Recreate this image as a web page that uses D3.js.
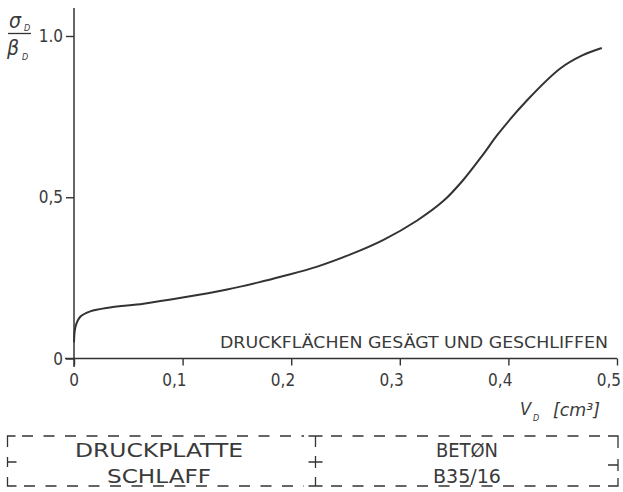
<!DOCTYPE html>
<html>
<head>
<meta charset="utf-8">
<script src="https://cdn.jsdelivr.net/npm/d3@7/dist/d3.min.js"></script>
<style>
  html, body { margin: 0; padding: 0; background: #fff; }
  svg { display: block; }
  text { font-family: "DejaVu Sans Condensed", "DejaVu Sans", sans-serif; fill: #3a3a3a; }
</style>
</head>
<body>
<svg id="chart" width="623" height="492"></svg>
<script>
// Relative stress sigma_D/beta_D versus deformation volume V_D [cm3]
const volume = [0, 0.0015, 0.006, 0.015, 0.033, 0.064, 0.10, 0.141, 0.17, 0.192,
                0.224, 0.254, 0.285, 0.316, 0.34, 0.358, 0.377, 0.39, 0.417, 0.448, 0.468, 0.486];
const stressRatio = [0.05, 0.10, 0.13, 0.146, 0.158, 0.170, 0.189, 0.214, 0.236, 0.255,
                     0.285, 0.322, 0.368, 0.428, 0.488, 0.552, 0.634, 0.694, 0.800, 0.900, 0.940, 0.963];

const xTicks = [0, 0.1, 0.2, 0.3, 0.4, 0.5];
const xTickLabels = ["0", "0,1", "0,2", "0,3", "0,4", "0,5"];
const yTicks = [0, 0.5, 1.0];
const yTickLabels = ["0", "0,5", "1.0"];

const curveNote = "DRUCKFLÄCHEN GESÄGT UND GESCHLIFFEN";
const boxLeft = ["DRUCKPLATTE", "SCHLAFF"];
const boxRight = ["BETØN", "B35/16"];

const svg = d3.select("#chart");
const ink = "#333";

const x = d3.scaleLinear().domain([0, 0.5]).range([74, 617]);
const y = d3.scaleLinear().domain([0, 1]).range([358.5, 36]);

// axes
const gx = svg.append("g").attr("transform", `translate(0,${y(0)})`)
  .call(d3.axisBottom(x).tickValues(xTicks).tickSize(7).tickFormat(""));
gx.select(".domain").remove();
const gy = svg.append("g").attr("transform", `translate(${x(0)},0)`)
  .call(d3.axisLeft(y).tickValues(yTicks).tickSize(8).tickFormat(""));
gy.select(".domain").remove();
svg.selectAll(".tick line").attr("stroke", ink).attr("stroke-width", 1.4);

svg.append("line").attr("x1", 65).attr("x2", x(0.5)).attr("y1", y(0)).attr("y2", y(0))
  .attr("stroke", ink).attr("stroke-width", 1.5);
svg.append("line").attr("x1", x(0)).attr("x2", x(0)).attr("y1", 8).attr("y2", 367)
  .attr("stroke", ink).attr("stroke-width", 1.5);

// tick labels
svg.append("g").selectAll("text").data(xTicks).join("text")
  .attr("x", (d, i) => i === 0 ? x(d) : x(d) + 4)
  .attr("y", 385.5)
  .attr("text-anchor", (d, i) => i === 0 ? "middle" : "end")
  .attr("font-size", 17)
  .text((d, i) => xTickLabels[i]);

svg.append("g").selectAll("text").data(yTicks).join("text")
  .attr("x", 63)
  .attr("y", d => y(d))
  .attr("dy", "0.36em")
  .attr("text-anchor", "end")
  .attr("font-size", 17)
  .text((d, i) => yTickLabels[i]);

// y axis title: sigma_D / beta_D
const yt = svg.append("g");
yt.append("text").attr("x", 9).attr("y", 28).attr("font-size", 21).attr("font-style", "italic").text("σ");
yt.append("text").attr("x", 24).attr("y", 31).attr("font-size", 9).attr("font-style", "italic").text("D");
yt.append("line").attr("x1", 8).attr("x2", 31).attr("y1", 33.5).attr("y2", 33.5)
  .attr("stroke", ink).attr("stroke-width", 1.3);
yt.append("text").attr("x", 7).attr("y", 55).attr("font-size", 21).attr("font-style", "italic").text("β");
yt.append("text").attr("x", 22).attr("y", 60).attr("font-size", 9).attr("font-style", "italic").text("D");

// x axis title: V_D [cm3]
const xt = svg.append("g");
xt.append("text").attr("x", 520).attr("y", 415).attr("font-size", 18).attr("font-style", "italic").text("V");
xt.append("text").attr("x", 533).attr("y", 421).attr("font-size", 9).attr("font-style", "italic").text("D");
xt.append("text").attr("x", 553).attr("y", 416).attr("font-size", 17).attr("font-style", "italic")
  .attr("textLength", 47).attr("lengthAdjust", "spacingAndGlyphs").text("[cm³]");

// curve
const line = d3.line().x((d, i) => x(volume[i])).y(d => y(d)).curve(d3.curveCatmullRom.alpha(0.5));
svg.append("path").datum(stressRatio).attr("d", line)
  .attr("fill", "none").attr("stroke", ink).attr("stroke-width", 2).attr("stroke-linejoin", "round");

svg.append("text").attr("x", 220).attr("y", 348).attr("font-size", 15)
  .attr("textLength", 388).attr("lengthAdjust", "spacingAndGlyphs").text(curveNote);

// dashed caption frame
const frame = svg.append("g").attr("fill", "none").attr("stroke", ink).attr("stroke-width", 1.3);
const solid = d => frame.append("path").attr("d", d);
const dashed = (x1, x2, yy) => frame.append("line")
  .attr("x1", x1).attr("x2", x2).attr("y1", yy).attr("y2", yy)
  .attr("stroke-dasharray", "11 10.5");

const fTop = 436, fMid = 462, fBot = 486, fL = 7.5, fM = 315.5, fR = 618;
solid(`M${fL + 8},${fTop}H${fL}V${fTop + 11}`);
solid(`M${fM - 7},${fTop}H${fM + 7}M${fM},${fTop}V${fTop + 11}`);
solid(`M${fR - 10},${fTop}H${fR}V${fTop + 12}`);
solid(`M${fL},${fMid - 5}V${fMid + 5}M${fL},${fMid}H${fL + 9}`);
solid(`M${fM - 7},${fMid}H${fM + 7}M${fM},${fMid - 6}V${fMid + 6}`);
solid(`M${fR - 10},${fMid + 3}H${fR}M${fR},${fMid - 3}V${fMid + 9}`);
solid(`M${fL},${fBot - 9}V${fBot}H${fL + 9}`);
solid(`M${fM - 7},${fBot}H${fM + 7}M${fM},${fBot - 9}V${fBot}`);
solid(`M${fR - 10},${fBot}H${fR}V${fBot - 8}`);
dashed(22, 304, fTop);
dashed(331, 604, fTop);
dashed(24, 304, fBot);
dashed(331, 604, fBot);

svg.append("g").selectAll("text").data(boxLeft).join("text")
  .attr("x", 159).attr("y", (d, i) => i === 0 ? 457 : 483)
  .attr("text-anchor", "middle").attr("font-size", 20)
  .attr("textLength", (d, i) => i === 0 ? 168 : 104).attr("lengthAdjust", "spacingAndGlyphs")
  .text(d => d);
svg.append("g").selectAll("text").data(boxRight).join("text")
  .attr("x", 467).attr("y", (d, i) => i === 0 ? 457 : 483)
  .attr("text-anchor", "middle").attr("font-size", 20)
  .attr("textLength", (d, i) => i === 0 ? 62 : 68).attr("lengthAdjust", "spacingAndGlyphs")
  .text(d => d);
</script>
</body>
</html>
